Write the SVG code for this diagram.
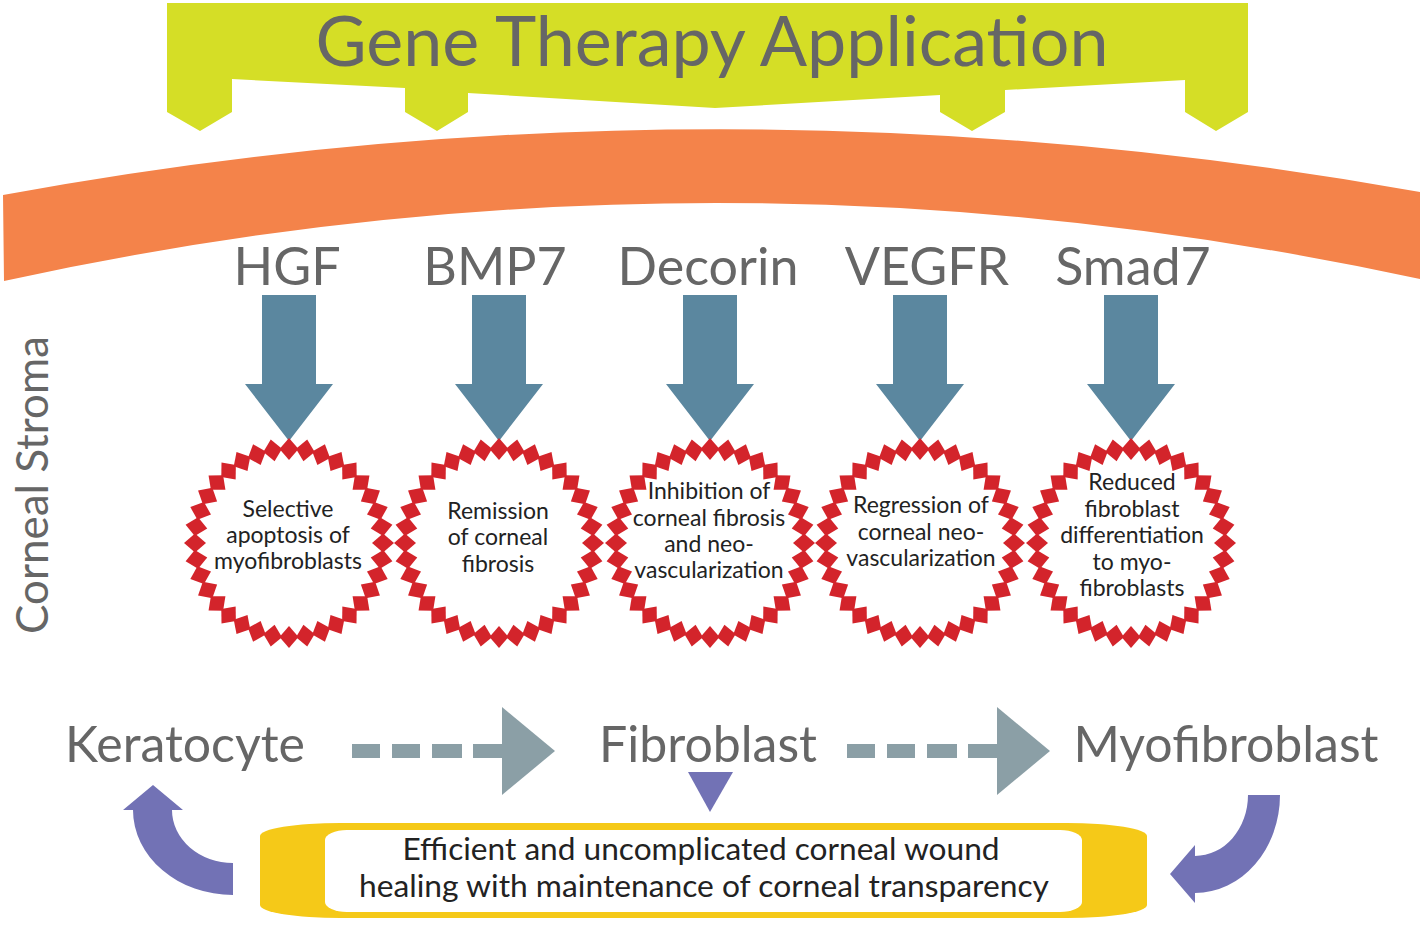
<svg xmlns="http://www.w3.org/2000/svg" xmlns:xlink="http://www.w3.org/1999/xlink" width="1422" height="925" viewBox="0 0 1422 925">
<style>
.lbl{font-family:Lato,"Liberation Sans",sans-serif;fill:#666666;text-anchor:middle}
.gene{font-size:52px}
.cell{font-size:50px}
.ctext{font-family:Lato,"Liberation Sans",sans-serif;font-size:23px;fill:#222222;text-anchor:middle}
.btext{font-family:Lato,"Liberation Sans",sans-serif;font-size:31px;fill:#222222;text-anchor:middle}
.blue{fill:#5b879f}
.dash{fill:#8b9fa6}
.purple{fill:#7272b5}
</style>
<defs>
<path id="dm" d="M0,-105 L9.5,-94 L0,-83 L-9.5,-94 Z" fill="#d3242b"/>
<g id="ring">
<use href="#dm" transform="rotate(0)"/><use href="#dm" transform="rotate(10)"/><use href="#dm" transform="rotate(20)"/><use href="#dm" transform="rotate(30)"/><use href="#dm" transform="rotate(40)"/><use href="#dm" transform="rotate(50)"/><use href="#dm" transform="rotate(60)"/><use href="#dm" transform="rotate(70)"/><use href="#dm" transform="rotate(80)"/><use href="#dm" transform="rotate(90)"/><use href="#dm" transform="rotate(100)"/><use href="#dm" transform="rotate(110)"/><use href="#dm" transform="rotate(120)"/><use href="#dm" transform="rotate(130)"/><use href="#dm" transform="rotate(140)"/><use href="#dm" transform="rotate(150)"/><use href="#dm" transform="rotate(160)"/><use href="#dm" transform="rotate(170)"/><use href="#dm" transform="rotate(180)"/><use href="#dm" transform="rotate(190)"/><use href="#dm" transform="rotate(200)"/><use href="#dm" transform="rotate(210)"/><use href="#dm" transform="rotate(220)"/><use href="#dm" transform="rotate(230)"/><use href="#dm" transform="rotate(240)"/><use href="#dm" transform="rotate(250)"/><use href="#dm" transform="rotate(260)"/><use href="#dm" transform="rotate(270)"/><use href="#dm" transform="rotate(280)"/><use href="#dm" transform="rotate(290)"/><use href="#dm" transform="rotate(300)"/><use href="#dm" transform="rotate(310)"/><use href="#dm" transform="rotate(320)"/><use href="#dm" transform="rotate(330)"/><use href="#dm" transform="rotate(340)"/><use href="#dm" transform="rotate(350)"/>
</g>
<path id="bluearrow" d="M-27,0 L27,0 L27,89 L44,89 L0,146 L-44,89 L-27,89 Z"/>
<g id="dasharrow">
<rect x="0" y="-7" width="28" height="14"/>
<rect x="40" y="-7" width="28" height="14"/>
<rect x="80" y="-7" width="30" height="14"/>
<rect x="121" y="-7" width="32" height="14"/>
<path d="M150,-44 L203,0 L150,44 Z"/>
</g>
</defs>

<g id="banner">
<path d="M167,3 L1248,3 L1248,112 L1216,131 L1185,112 L1185,80 L1005,90 L1005,112 L972,131 L940,112 L940,95 L715,108 L468,93 L468,112 L437,131 L405,112 L405,88 L232,79 L232,112 L200,131 L167,112 Z" fill="#d5de26"/>
<text class="lbl" x="712" y="66" font-size="70">Gene Therapy Application</text>
</g>

<g id="cornea-arc">
<path d="M3,195 Q711,65 1420,192 L1420,279 Q711,126 4,281 Z" fill="#f4834a"/>
</g>

<g id="stroma-label">
<text class="lbl" font-size="44" transform="translate(48,485) rotate(-90)" x="0" y="0">Corneal Stroma</text>
</g>

<g id="genes">
<text class="lbl gene" x="287" y="285">HGF</text>
<text class="lbl gene" x="495" y="285">BMP7</text>
<text class="lbl gene" x="708" y="285">Decorin</text>
<text class="lbl gene" x="927" y="285">VEGFR</text>
<text class="lbl gene" x="1133" y="285">Smad7</text>
</g>

<g id="connectors">
<use href="#bluearrow" class="blue" x="289" y="295"/>
<use href="#bluearrow" class="blue" x="499" y="295"/>
<use href="#bluearrow" class="blue" x="710" y="295"/>
<use href="#bluearrow" class="blue" x="920" y="295"/>
<use href="#bluearrow" class="blue" x="1131" y="295"/>
<use href="#dasharrow" class="dash" x="352" y="751"/>
<use href="#dasharrow" class="dash" x="847" y="751"/>
<path class="purple" d="M688,772 L733,772 L710,812 Z"/>
<path class="purple" d="M233,895 A100,85 0 0 1 133,810 L123,810 L153,785 L183,810 L172,810 A61,53 0 0 0 233,863 Z"/>
<path class="purple" d="M1248,795 L1280,795 A85,98 0 0 1 1195,893 L1195,903 L1170,874 L1195,845 L1195,856 A53,61 0 0 0 1248,795 Z"/>
</g>

<g id="node-hgf">
<use href="#ring" transform="translate(289,543)"/>
<text class="ctext" x="288" y="517">Selective</text>
<text class="ctext" x="288" y="543">apoptosis of</text>
<text class="ctext" x="288" y="569">myofibroblasts</text>
</g>
<g id="node-bmp7">
<use href="#ring" transform="translate(499,543)"/>
<text class="ctext" x="498" y="519">Remission</text>
<text class="ctext" x="498" y="545">of corneal</text>
<text class="ctext" x="498" y="572">fibrosis</text>
</g>
<g id="node-decorin">
<use href="#ring" transform="translate(710,543)"/>
<text class="ctext" x="709" y="499">Inhibition of</text>
<text class="ctext" x="709" y="526">corneal fibrosis</text>
<text class="ctext" x="709" y="552">and neo-</text>
<text class="ctext" x="709" y="578">vascularization</text>
</g>
<g id="node-vegfr">
<use href="#ring" transform="translate(920,543)"/>
<text class="ctext" x="921" y="513">Regression of</text>
<text class="ctext" x="921" y="540">corneal neo-</text>
<text class="ctext" x="921" y="566">vascularization</text>
</g>
<g id="node-smad7">
<use href="#ring" transform="translate(1131,543)"/>
<text class="ctext" x="1132" y="490">Reduced</text>
<text class="ctext" x="1132" y="517">fibroblast</text>
<text class="ctext" x="1132" y="543">differentiation</text>
<text class="ctext" x="1132" y="570">to myo-</text>
<text class="ctext" x="1132" y="596">fibroblasts</text>
</g>

<g id="node-keratocyte">
<text class="lbl cell" x="185" y="762">Keratocyte</text>
</g>
<g id="node-fibroblast">
<text class="lbl cell" x="708" y="762">Fibroblast</text>
</g>
<g id="node-myofibroblast">
<text class="lbl cell" x="1226" y="762">Myofibroblast</text>
</g>

<g id="node-healing">
<rect x="260" y="823" width="887" height="95" rx="80" ry="13" fill="#f5c918"/>
<rect x="325" y="830" width="757" height="82" rx="22" ry="10" fill="#ffffff"/>
<text class="btext" x="701" y="860" textLength="597" lengthAdjust="spacingAndGlyphs">Efficient and uncomplicated corneal wound</text>
<text class="btext" x="704" y="897" textLength="690" lengthAdjust="spacingAndGlyphs">healing with maintenance of corneal transparency</text>
</g>
</svg>
